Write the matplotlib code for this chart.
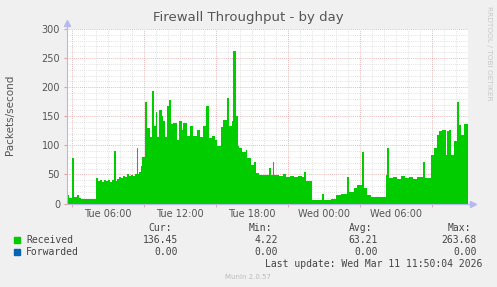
import numpy as np
import matplotlib
matplotlib.use("Agg")
import matplotlib.pyplot as plt

# ── Data (hours since Tue 00:00, packets/second, step-wise samples) ──────────
hours = [2.58, 2.75, 3.02, 3.16, 3.39, 3.58, 3.72, 5.02, 5.16, 5.33, 5.50,
         5.66, 5.83, 6.00, 6.16, 6.33, 6.52, 6.64, 6.75, 6.91, 7.08, 7.25,
         7.41, 7.58, 7.75, 7.91, 8.08, 8.25, 8.39, 8.47, 8.58, 8.72, 8.83,
         9.08, 9.27, 9.50, 9.64, 9.83, 10.00, 10.10, 10.27, 10.47, 10.61,
         10.75, 10.89, 11.11, 11.22, 11.44, 11.72, 11.94, 12.14, 12.27,
         12.55, 12.83, 13.11, 13.39, 13.66, 13.94, 14.16, 14.41, 14.64,
         14.91, 15.05, 15.39, 15.61, 15.89, 16.11, 16.30, 16.44, 16.66,
         16.85, 16.91, 17.19, 17.47, 17.61, 17.89, 18.16, 18.30, 18.58,
         19.41, 19.55, 19.75, 19.83, 20.25, 20.58, 20.83, 21.16, 21.50,
         21.83, 22.16, 22.33, 22.47, 23.02, 23.86, 24.00, 24.55, 24.97,
         25.39, 25.94, 26.08, 26.50, 26.77, 27.14, 27.33, 27.61, 27.89,
         29.14, 29.27, 29.41, 29.75, 30.08, 30.41, 30.75, 31.08, 31.41,
         31.75, 32.22, 32.41, 32.89, 33.16, 33.44, 33.58, 33.86, 34.14,
         34.27, 34.41, 34.55, 34.83, 35.05, 35.25, 35.44, 35.66]
received = [14, 10, 78, 12, 15, 10, 7, 43, 38, 41, 37,
            40, 38, 41, 37, 40, 90, 38, 42, 46, 44, 48,
            46, 50, 47, 49, 47, 50, 96, 50, 55, 65, 80,
            175, 130, 115, 193, 133, 158, 115, 160, 150, 141,
            115, 167, 178, 136, 139, 109, 141, 126, 139,
            116, 133, 116, 126, 115, 133, 167, 112, 116,
            109, 98, 131, 144, 181, 133, 141, 262, 150,
            98, 95, 89, 92, 78, 66, 72, 52, 49,
            61, 49, 72, 49, 47, 50, 46, 48, 45,
            48, 46, 55, 38, 6, 17, 6, 8, 14,
            17, 46, 20, 26, 32, 89, 26, 15, 12,
            49, 95, 43, 46, 42, 47, 43, 46, 42,
            45, 72, 43, 84, 95, 118, 124, 127, 84,
            124, 127, 84, 107, 175, 135, 118, 136]
forwarded = [0.0] * len(hours)
end_hour = 35.99

x_ticks = [6, 12, 18, 24, 30]
x_labels = ["Tue 06:00", "Tue 12:00", "Tue 18:00", "Wed 00:00", "Wed 06:00"]
y_ticks = [0, 50, 100, 150, 200, 250, 300]

legend_rows = [
    ("Received", "#00CC00", ["136.45", "4.22", "63.21", "263.68"]),
    ("Forwarded", "#0066B3", ["0.00", "0.00", "0.00", "0.00"]),
]
stat_names = ["Cur:", "Min:", "Avg:", "Max:"]

# ── Figure ───────────────────────────────────────────────────────────────────
W, H = 497, 287
fig = plt.figure(figsize=(W / 100, H / 100), dpi=100, facecolor="#F0F0F0")
ax = fig.add_axes([67 / W, (H - 203.5) / H, 401 / W, 174.5 / H])
ax.set_facecolor("white")

t = np.append(hours, end_hour)
v = np.append(received, received[-1])
f = np.append(forwarded, forwarded[-1])
ax.fill_between(t, 0, v, step="post", color="#00CC00", linewidth=0, zorder=3)
ax.fill_between(t, v, v + f, step="post", color="#0066B3", linewidth=0, zorder=3)

ax.set_xlim(hours[0], end_hour)
ax.set_ylim(0, 300)

# grid: minor grey every hour / 10 units, major red every 6 h / 50 units
grid_minor = dict(color="#D8D8D8", linewidth=0.6, linestyle=(0, (1, 1.5)), zorder=1)
grid_major = dict(color="#E6A0A0", linewidth=0.6, linestyle=(0, (1, 1.5)), zorder=2)
for h in range(3, 36):
    ax.axvline(h, **(grid_major if h % 6 == 3 else grid_minor))
for y in range(10, 301, 10):
    ax.axhline(y, **(grid_major if y % 50 == 0 else grid_minor))

axis_col = "#B8B8F0"
for side in ["top", "right"]:
    ax.spines[side].set_visible(False)
for side in ["left", "bottom"]:
    ax.spines[side].set_color(axis_col)
    ax.spines[side].set_linewidth(0.8)
    ax.spines[side].set_zorder(4)
ax.plot([0], [1.035], marker="^", color=axis_col, markersize=4,
        transform=ax.transAxes, clip_on=False)
ax.plot([0, 0], [1.0, 1.03], color=axis_col, linewidth=0.8,
        transform=ax.transAxes, clip_on=False)
ax.plot([1.0, 1.01], [0, 0], color=axis_col, linewidth=0.8,
        transform=ax.transAxes, clip_on=False)
ax.plot([1.012], [0], marker=">", color=axis_col, markersize=4,
        transform=ax.transAxes, clip_on=False)

ax.set_xticks(x_ticks)
ax.set_xticklabels(x_labels)
ax.set_xticks(list(range(3, 36, 6)), minor=True)
ax.set_yticks(y_ticks)
ax.tick_params(axis="both", which="major", labelsize=7, labelcolor="#555555",
               length=0, pad=4)
ax.tick_params(axis="x", which="minor", length=2, color="#E6A0A0")
ax.tick_params(axis="y", which="major", length=2, color="#E6A0A0", pad=3)

fig.text(10 / W, 1 - 115 / H, "Packets/second", rotation=90, ha="center",
         va="center", fontsize=7.5, color="#555555")
fig.text(248 / W, 1 - 18 / H, "Firewall Throughput - by day", ha="center",
         va="center", fontsize=9.5, color="#555555")
fig.text(489 / W, 1 - 6 / H, "RRDTOOL / TOBI OETIKER", rotation=270,
         ha="center", va="top", fontsize=5.3, color="#C8C8C8")

# ── Legend block (monospace, munin style) ───────────────────────────────────
mono = dict(family="DejaVu Sans Mono", fontsize=7, color="#444444")
col_right = [178, 278, 378, 477]
for xr, name in zip(col_right, stat_names):
    fig.text((xr - 6) / W, 1 - 228 / H, name, ha="right", va="center", **mono)
for i, (label, colr, vals) in enumerate(legend_rows):
    yy = 1 - (240 + i * 12) / H
    fig.patches.append(plt.Rectangle((14 / W, yy - 3 / H), 6 / W, 6 / H,
                                     color=colr, transform=fig.transFigure))
    fig.text(26 / W, yy, label, ha="left", va="center", **mono)
    for xr, val in zip(col_right, vals):
        fig.text(xr / W, yy, val, ha="right", va="center", **mono)
fig.text(482 / W, 1 - 264 / H, "Last update: Wed Mar 11 11:50:04 2026",
         ha="right", va="center", **mono)
fig.text(248 / W, 1 - 277 / H, "Munin 2.0.57", ha="center", va="center",
         fontsize=5, color="#BBBBBB")

fig.savefig("out.png", dpi=100, facecolor=fig.get_facecolor())
